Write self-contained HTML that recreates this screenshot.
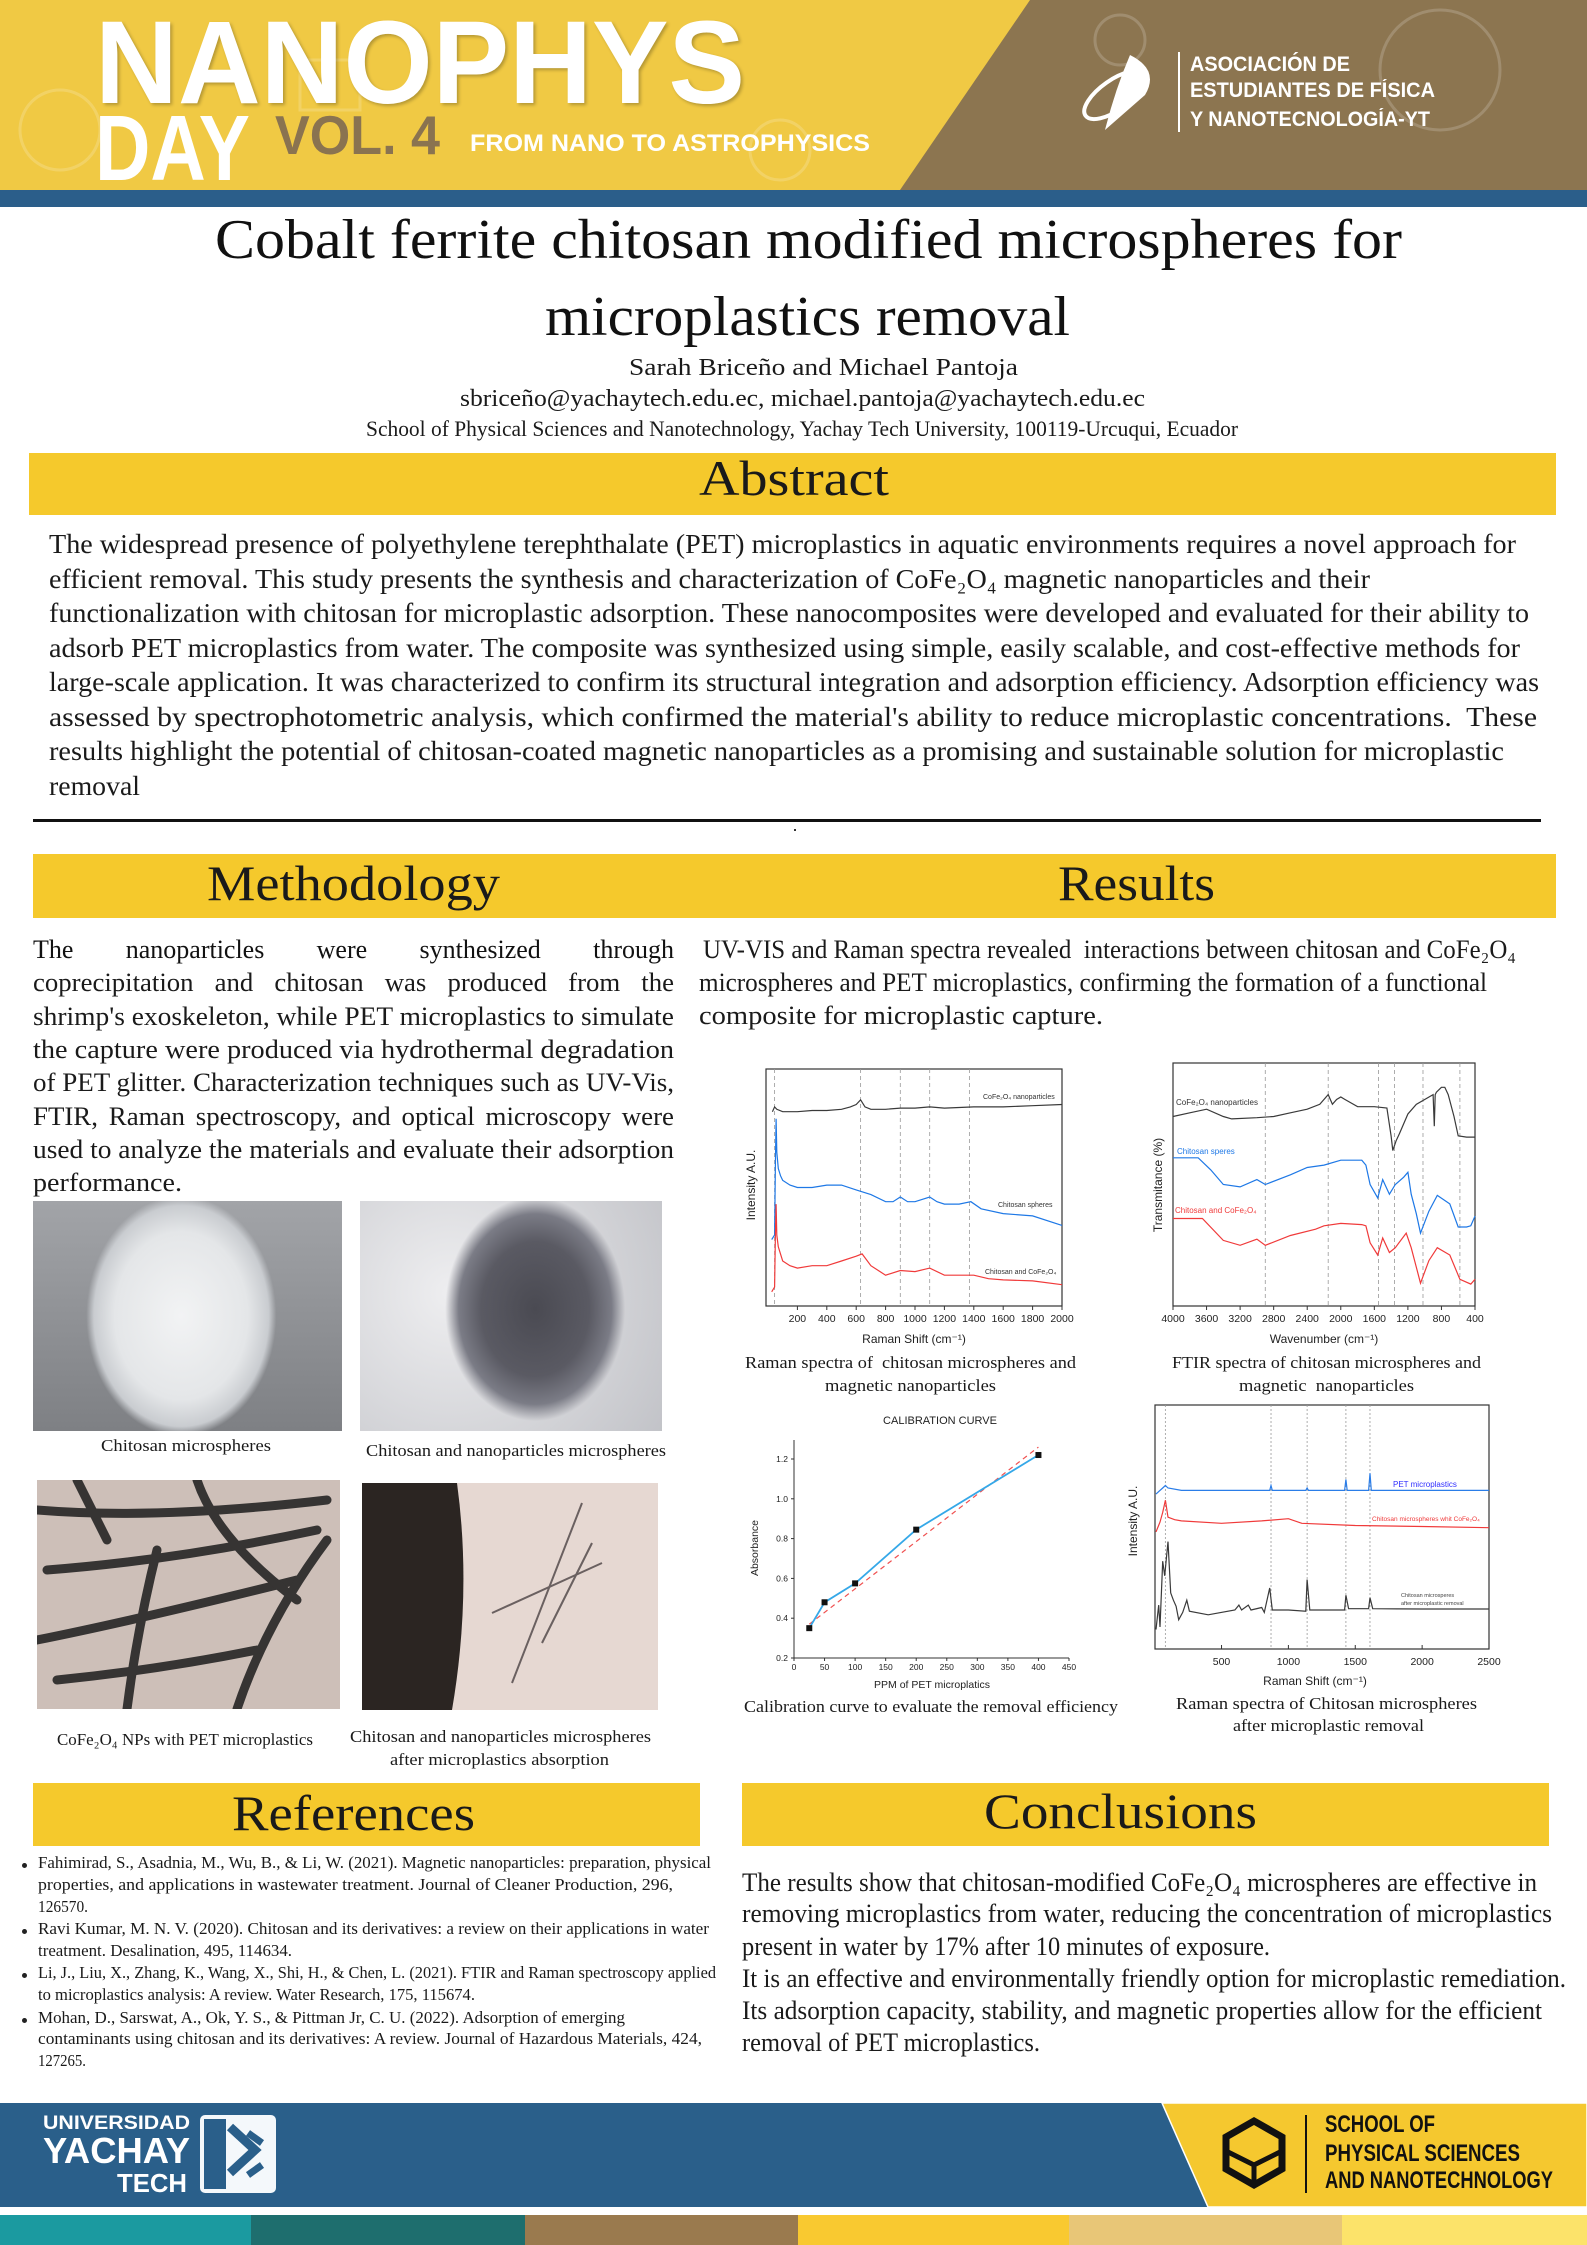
<!DOCTYPE html>
<html><head><meta charset="utf-8">
<style>
*{margin:0;padding:0;box-sizing:border-box}
body{width:1587px;height:2245px;position:relative;background:#fff;overflow:hidden;font-family:"Liberation Serif",serif;color:#111}
.abs{position:absolute}
.ln{position:absolute;white-space:nowrap;line-height:1;transform-origin:0 0;font-family:"Liberation Serif",serif;color:#1a1a1a;display:inline-block}
.hs{position:absolute;white-space:nowrap;line-height:1;transform-origin:0 0;font-family:"Liberation Sans",sans-serif;font-weight:bold;display:inline-block}
.bar{position:absolute;background:#f5c92c}
</style></head>
<body>
<!-- HEADER -->
<div class="abs" style="left:0;top:0;width:1587px;height:190px;background:#f0c944"></div>
<svg class="abs" style="left:0;top:0" width="1587" height="190"><polygon points="1030,0 1587,0 1587,190 900,190" fill="#8c7550"/>
<g stroke="#ffffff" stroke-opacity="0.18" fill="none" stroke-width="3"><circle cx="1440" cy="70" r="60"/><circle cx="1120" cy="40" r="25"/><circle cx="60" cy="130" r="40"/><circle cx="780" cy="150" r="30"/><rect x="300" y="60" width="60" height="50"/></g></svg>
<div class="abs" style="left:0;top:190px;width:1587px;height:17px;background:#2b5e8a"></div>
<div class="hs" data-w="650" style="left:95px;top:4px;font-size:118px;color:#fff;text-shadow:2px 2px 3px rgba(0,0,0,.25)">NANOPHYS</div>
<div class="hs" data-w="155" style="left:95px;top:102px;font-size:93px;color:#fff">DAY</div>
<div class="hs" data-w="165" style="left:275px;top:108px;font-size:55px;color:#8a7350">VOL. 4</div>
<div class="hs" data-w="400" style="left:470px;top:132px;font-size:24px;color:#fff">FROM NANO TO ASTROPHYSICS</div>
<svg class="abs" style="left:1075px;top:50px" width="90" height="85"><ellipse cx="40" cy="45" rx="36" ry="15" fill="none" stroke="#fff" stroke-width="4" transform="rotate(-35 40 45)"/><path d="M55 5 Q85 20 70 45 L30 80 Q40 40 55 5Z" fill="#fff"/></svg>
<div class="abs" style="left:1178px;top:52px;width:2px;height:80px;background:#fff"></div>
<div class="hs" data-w="160" style="left:1190px;top:54px;font-size:21px;color:#fff">ASOCIACIÓN DE</div>
<div class="hs" data-w="245" style="left:1190px;top:80px;font-size:21px;color:#fff">ESTUDIANTES DE FÍSICA</div>
<div class="hs" data-w="240" style="left:1190px;top:109px;font-size:21px;color:#fff">Y NANOTECNOLOGÍA-YT</div>

<!-- TITLE -->
<div class="ln" data-w="1187" style="left:215px;top:212px;font-size:56px;color:#111">Cobalt ferrite chitosan modified microspheres for</div>
<div class="ln" data-w="525" style="left:545px;top:289px;font-size:56px;color:#111">microplastics removal</div>
<div class="ln" data-w="389" style="left:629px;top:356px;font-size:24px">Sarah Briceño and Michael Pantoja</div>
<div class="ln" data-w="685" style="left:460px;top:387px;font-size:24px">sbriceño@yachaytech.edu.ec, michael.pantoja@yachaytech.edu.ec</div>
<div class="ln" data-w="872" style="left:366px;top:418px;font-size:22px">School of Physical Sciences and Nanotechnology, Yachay Tech University, 100119-Urcuqui, Ecuador</div>

<!-- ABSTRACT -->
<div class="bar" style="left:29px;top:453px;width:1527px;height:62px"></div>
<div class="ln" data-w="190" style="left:699px;top:453px;font-size:50px">Abstract</div>
<div class="ln" data-w="1467" style="left:49px;top:531px;font-size:27px">The widespread presence of polyethylene terephthalate (PET) microplastics in aquatic environments requires a novel approach for</div>
<div class="ln" data-w="1321" style="left:49px;top:566px;font-size:27px">efficient removal. This study presents the synthesis and characterization of CoFe₂O₄ magnetic nanoparticles and their</div>
<div class="ln" data-w="1480" style="left:49px;top:600px;font-size:27px">functionalization with chitosan for microplastic adsorption. These nanocomposites were developed and evaluated for their ability to</div>
<div class="ln" data-w="1471" style="left:49px;top:635px;font-size:27px">adsorb PET microplastics from water. The composite was synthesized using simple, easily scalable, and cost-effective methods for</div>
<div class="ln" data-w="1490" style="left:49px;top:669px;font-size:27px">large-scale application. It was characterized to confirm its structural integration and adsorption efficiency. Adsorption efficiency was</div>
<div class="ln" data-w="1488" style="left:49px;top:704px;font-size:27px">assessed by spectrophotometric analysis, which confirmed the material's ability to reduce microplastic concentrations.&nbsp; These</div>
<div class="ln" data-w="1455" style="left:49px;top:738px;font-size:27px">results highlight the potential of chitosan-coated magnetic nanoparticles as a promising and sustainable solution for microplastic</div>
<div class="ln" data-w="91" style="left:49px;top:773px;font-size:27px">removal</div>
<div class="abs" style="left:33px;top:819px;width:1508px;height:3px;background:#111"></div>
<div class="abs" style="left:794px;top:829px;width:2px;height:2px;background:#333"></div>

<!-- METHODOLOGY / RESULTS -->
<div class="bar" style="left:33px;top:854px;width:666px;height:64px"></div>
<div class="bar" style="left:699px;top:854px;width:857px;height:64px"></div>
<div class="ln" data-w="293" style="left:207px;top:858px;font-size:50px">Methodology</div>
<div class="ln" data-w="157" style="left:1058px;top:858px;font-size:50px">Results</div>

<div class="abs" style="left:33px;top:937px;width:641px;font-size:26px;line-height:1;display:flex;justify-content:space-between;white-space:nowrap"><span>The</span><span>nanoparticles</span><span>were</span><span>synthesized</span><span>through</span></div>
<div class="ln" data-w="641" style="left:33px;top:970px;font-size:26px;word-spacing:14px">coprecipitation and chitosan was produced from the</div>
<div class="ln" data-w="641" style="left:33px;top:1004px;font-size:26px">shrimp's exoskeleton, while PET microplastics to simulate</div>
<div class="ln" data-w="641" style="left:33px;top:1037px;font-size:26px">the capture were produced via hydrothermal degradation</div>
<div class="ln" data-w="641" style="left:33px;top:1070px;font-size:26px">of PET glitter. Characterization techniques such as UV-Vis,</div>
<div class="ln" data-w="641" style="left:33px;top:1104px;font-size:26px;word-spacing:4px">FTIR, Raman spectroscopy, and optical microscopy were</div>
<div class="ln" data-w="641" style="left:33px;top:1137px;font-size:26px">used to analyze the materials and evaluate their adsorption</div>
<div class="ln" data-w="149" style="left:33px;top:1170px;font-size:26px">performance.</div>

<div class="ln" data-w="813" style="left:703px;top:937px;font-size:26px">UV-VIS and Raman spectra revealed&nbsp; interactions between chitosan and CoFe₂O₄</div>
<div class="ln" data-w="788" style="left:699px;top:970px;font-size:26px">microspheres and PET microplastics, confirming the formation of a functional</div>
<div class="ln" data-w="404" style="left:699px;top:1003px;font-size:26px">composite for microplastic capture.</div>

<!-- MICROGRAPHS -->
<div class="abs" style="left:33px;top:1201px;width:309px;height:230px;background:radial-gradient(ellipse 95px 120px at 48% 50%,#f2f3f4 0%,#e4e6e8 70%,#c9ccd0 92%,rgba(0,0,0,0) 100%),linear-gradient(180deg,#a2a4a8,#7e8084)"></div>
<div class="abs" style="left:360px;top:1201px;width:302px;height:230px;background:radial-gradient(ellipse 90px 112px at 58% 47%,#4a4a52 0%,#5a5a63 60%,#7b7c86 85%,rgba(0,0,0,0) 100%),radial-gradient(circle at 30% 40%,#eeeef0,#c2c3c8)"></div>
<div class="ln" data-w="170" style="left:101px;top:1437px;font-size:17px">Chitosan microspheres</div>
<div class="ln" data-w="300" style="left:366px;top:1442px;font-size:17px">Chitosan and nanoparticles microspheres</div>
<svg class="abs" style="left:37px;top:1480px" width="303" height="229"><rect width="303" height="229" fill="#cdbfb8"/>
<g stroke="#1c1c1c" stroke-width="9" stroke-linecap="round" fill="none" opacity="0.85"><path d="M0 30 Q120 40 290 20"/><path d="M10 90 Q140 80 280 50"/><path d="M0 160 Q100 140 260 100"/><path d="M90 229 Q100 150 120 70"/><path d="M200 229 Q230 140 290 60"/><path d="M20 200 Q120 190 220 170"/><path d="M40 0 L70 60"/><path d="M160 0 Q180 60 260 120"/></g></svg>
<svg class="abs" style="left:362px;top:1483px" width="296" height="227"><rect width="296" height="227" fill="#e6d8d2"/><path d="M0 0 L95 0 Q110 110 90 227 L0 227Z" fill="#2b2522"/>
<g stroke="#6a6060" stroke-width="2" fill="none"><path d="M220 20 L150 200"/><path d="M240 80 L130 130"/><path d="M230 60 L180 160"/></g></svg>
<div class="ln" data-w="256" style="left:57px;top:1731px;font-size:17px">CoFe₂O₄ NPs with PET microplastics</div>
<div class="ln" data-w="301" style="left:350px;top:1728px;font-size:17px">Chitosan and nanoparticles microspheres</div>
<div class="ln" data-w="219" style="left:390px;top:1751px;font-size:17px">after microplastics absorption</div>

<!-- CHARTS -->
<svg id="charts" class="abs" style="left:0;top:0" width="1587" height="2245" font-family="Liberation Sans, sans-serif"></svg>
<div class="ln" data-w="331" style="left:745px;top:1354px;font-size:17px">Raman spectra of&nbsp; chitosan microspheres and</div>
<div class="ln" data-w="171" style="left:825px;top:1377px;font-size:17px">magnetic nanoparticles</div>
<div class="ln" data-w="309" style="left:1172px;top:1354px;font-size:17px">FTIR spectra of chitosan microspheres and</div>
<div class="ln" data-w="175" style="left:1239px;top:1377px;font-size:17px">magnetic&nbsp; nanoparticles</div>
<div class="ln" data-w="374" style="left:744px;top:1698px;font-size:17px">Calibration curve to evaluate the removal efficiency</div>
<div class="ln" data-w="301" style="left:1176px;top:1695px;font-size:17px">Raman spectra of Chitosan microspheres</div>
<div class="ln" data-w="191" style="left:1233px;top:1717px;font-size:17px">after microplastic removal</div>

<!-- REFERENCES / CONCLUSIONS -->
<div class="bar" style="left:33px;top:1783px;width:667px;height:63px"></div>
<div class="bar" style="left:742px;top:1783px;width:807px;height:63px"></div>
<div class="ln" data-w="243" style="left:232px;top:1788px;font-size:50px">References</div>
<div class="ln" data-w="273" style="left:984px;top:1786px;font-size:50px">Conclusions</div>

<div class="abs" style="left:22px;top:1863px;width:5px;height:5px;border-radius:50%;background:#222"></div>
<div class="abs" style="left:22px;top:1929px;width:5px;height:5px;border-radius:50%;background:#222"></div>
<div class="abs" style="left:22px;top:1973px;width:5px;height:5px;border-radius:50%;background:#222"></div>
<div class="abs" style="left:22px;top:2018px;width:5px;height:5px;border-radius:50%;background:#222"></div>
<div class="ln" data-w="673" style="left:38px;top:1855px;font-size:16.5px">Fahimirad, S., Asadnia, M., Wu, B., &amp; Li, W. (2021). Magnetic nanoparticles: preparation, physical</div>
<div class="ln" data-w="635" style="left:38px;top:1877px;font-size:16.5px">properties, and applications in wastewater treatment. Journal of Cleaner Production, 296,</div>
<div class="ln" data-w="50" style="left:38px;top:1899px;font-size:16.5px">126570.</div>
<div class="ln" data-w="671" style="left:38px;top:1921px;font-size:16.5px">Ravi Kumar, M. N. V. (2020). Chitosan and its derivatives: a review on their applications in water</div>
<div class="ln" data-w="254" style="left:38px;top:1943px;font-size:16.5px">treatment. Desalination, 495, 114634.</div>
<div class="ln" data-w="678" style="left:38px;top:1965px;font-size:16.5px">Li, J., Liu, X., Zhang, K., Wang, X., Shi, H., &amp; Chen, L. (2021). FTIR and Raman spectroscopy applied</div>
<div class="ln" data-w="437" style="left:38px;top:1987px;font-size:16.5px">to microplastics analysis: A review. Water Research, 175, 115674.</div>
<div class="ln" data-w="587" style="left:38px;top:2010px;font-size:16.5px">Mohan, D., Sarswat, A., Ok, Y. S., &amp; Pittman Jr, C. U. (2022). Adsorption of emerging</div>
<div class="ln" data-w="664" style="left:38px;top:2031px;font-size:16.5px">contaminants using chitosan and its derivatives: A review. Journal of Hazardous Materials, 424,</div>
<div class="ln" data-w="48" style="left:38px;top:2053px;font-size:16.5px">127265.</div>

<div class="ln" data-w="795" style="left:742px;top:1870px;font-size:26px">The results show that chitosan-modified CoFe₂O₄ microspheres are effective in</div>
<div class="ln" data-w="810" style="left:742px;top:1901px;font-size:26px">removing microplastics from water, reducing the concentration of microplastics</div>
<div class="ln" data-w="528" style="left:742px;top:1934px;font-size:26px">present in water by 17% after 10 minutes of exposure.</div>
<div class="ln" data-w="824" style="left:742px;top:1966px;font-size:26px">It is an effective and environmentally friendly option for microplastic remediation.</div>
<div class="ln" data-w="800" style="left:742px;top:1998px;font-size:26px">Its adsorption capacity, stability, and magnetic properties allow for the efficient</div>
<div class="ln" data-w="298" style="left:742px;top:2030px;font-size:26px">removal of PET microplastics.</div>

<!-- FOOTER -->
<div class="abs" style="left:0;top:2103px;width:1587px;height:104px;background:#2a5f8a"></div>
<svg class="abs" style="left:0;top:2103px" width="1587" height="104"><polygon points="1162,0 1587,0 1587,104 1208,104" fill="#f5c82f" stroke="#fff" stroke-width="1.5"/>
<g transform="translate(1254,50)" fill="none" stroke="#111" stroke-width="7"><polygon points="0,-32 28,-16 28,16 0,32 -28,16 -28,-16"/><path d="M-28 -2 L0 12 L28 -2 M0 12 L0 32" stroke-width="5"/></g>
<rect x="1305" y="12" width="2" height="78" fill="#111"/></svg>
<div class="hs" data-w="110" style="left:1325px;top:2113px;font-size:24px;color:#111">SCHOOL OF</div>
<div class="hs" data-w="195" style="left:1325px;top:2142px;font-size:24px;color:#111">PHYSICAL SCIENCES</div>
<div class="hs" data-w="228" style="left:1325px;top:2169px;font-size:24px;color:#111">AND NANOTECHNOLOGY</div>
<div class="hs" data-w="147" style="left:43px;top:2114px;font-size:19px;color:#fff">UNIVERSIDAD</div>
<div class="hs" data-w="147" style="left:43px;top:2133px;font-size:36px;color:#fff">YACHAY</div>
<div class="hs" data-w="70" style="left:117px;top:2170px;font-size:26px;color:#fff">TECH</div>
<svg class="abs" style="left:200px;top:2115px" width="76" height="78"><rect width="76" height="78" rx="5" fill="#f4f8fb"/><rect x="4" y="4" width="22" height="70" fill="#2a5f8a"/><path d="M30 12 L55 35 L30 58" stroke="#2a5f8a" stroke-width="9" fill="none"/><path d="M48 18 L62 28 M48 60 L62 50" stroke="#2a5f8a" stroke-width="7"/></svg>
<div class="abs" style="left:0;top:2215px;width:251px;height:30px;background:#1b9aa0"></div>
<div class="abs" style="left:251px;top:2215px;width:274px;height:30px;background:#1e6e6e"></div>
<div class="abs" style="left:525px;top:2215px;width:273px;height:30px;background:#9a7a4e"></div>
<div class="abs" style="left:798px;top:2215px;width:271px;height:30px;background:#f9c930"></div>
<div class="abs" style="left:1069px;top:2215px;width:273px;height:30px;background:#e8c677"></div>
<div class="abs" style="left:1342px;top:2215px;width:245px;height:30px;background:#fce36a"></div>

<script>
// ---------- Raman spectra (chart 1) ----------
const ramanTicks=[200,400,600,800,1000,1200,1400,1600,1800,2000];
const ramanDashes=[45,630,900,1100,1370];
const ramanBlackX=[30,45,60,100,200,300,400,500,560,600,630,660,700,800,900,1000,1100,1200,1400,1600,1800,2000];
const ramanBlackY=[82,84,83,82,82,82.5,82.5,83,84,85,87,84,83,83,83.5,83.5,84,83.5,84,84,84.5,85];
const ramanBlueX=[25,45,50,55,60,70,85,100,150,200,300,400,500,600,700,800,850,900,950,1000,1100,1150,1200,1300,1380,1450,1600,1800,2000];
const ramanBlueY=[28,30,60,79,65,58,55,53,51,50,50,51,51,49,47,44,44,46,44,44,46,44,43,43,44,41,39,38,34];
const ramanRedX=[25,45,50,55,60,70,85,100,150,200,300,400,500,600,640,700,800,900,1000,1100,1200,1300,1400,1500,1600,1800,2000];
const ramanRedY=[6,8,30,43,30,25,22,19,17,16,17,17,19,21,22,17,13,15,14.5,16,13,13,13,11.5,11,10.6,9];
// ---------- FTIR spectra (chart 2) ----------
const ftirTicks=[4000,3600,3200,2800,2400,2000,1600,1200,800,400];
const ftirDashes=[2900,2150,1550,1360,1020,580];
const ftirBlackX=[4000,3800,3600,3400,3300,3000,2800,2600,2400,2250,2150,2100,2050,2000,1950,1900,1800,1700,1600,1450,1400,1380,1340,1300,1200,1100,1000,900,885,875,860,800,760,720,650,600,500,400];
const ftirBlackY=[78,79.5,81,78,77,77.5,78,79.5,81,83,87,83,85,86,85,84,82,82,82,81.5,70,64,68,71,79,83,85,87,74,87,88,90,90,87,78,70,69.5,69.5];
const ftirBlueX=[4000,3700,3550,3400,3200,3000,2900,2600,2400,2200,2000,1750,1700,1650,1560,1500,1420,1350,1250,1200,1160,1100,1050,950,850,700,600,500,450,400];
const ftirBlueY=[61,61,56,50,49,52,50,54,57,58,60,60,58,50,44.5,52,46,50,53,55,46,38,30,39,45.5,42,32.5,32.5,33,37];
const ftirRedX=[4000,3650,3400,3200,3000,2900,2600,2300,2200,2000,1750,1700,1650,1560,1500,1420,1350,1220,1160,1100,1050,950,850,700,580,450,400];
const ftirRedY=[36,36,27,25,27.5,25,29,31.6,33,34,33.5,33,26,21,28,22,24,30,24,16,9.4,18.7,24,21,11,9,11];
// ---------- Calibration curve (chart 3) ----------
const calXTicks=[0,50,100,150,200,250,300,350,400,450];
const calYTicks=[0.2,0.4,0.6,0.8,1.0,1.2];
const calPPM=[25,50,100,200,400];
const calAbs=[0.35,0.48,0.575,0.845,1.22];
const fitPPM=[25,400];
const fitAbs=[0.37,1.26];
// ---------- Raman after removal (chart 4) ----------
const raman2Ticks=[500,1000,1500,2000,2500];
const raman2Dashes=[80,870,1140,1430,1610];
const r2BlueX=[10,30,60,80,100,200,500,860,870,880,1130,1140,1150,1420,1430,1440,1600,1610,1620,2000,2500];
const r2BlueY=[63.5,64.5,66,67,66,65,65,65,67,65,65,66,65,65,69.5,65,65,72,65,65,65];
const r2RedX=[10,40,60,80,100,150,200,500,800,1000,1100,1500,2000,2500];
const r2RedY=[48,52,56,61,54,53,52.5,51.5,52.5,53.4,51.5,50.6,50.2,49.7];
const r2BlackX=[10,30,40,60,75,100,120,140,160,180,210,240,260,400,600,630,650,700,720,800,820,860,880,1000,1130,1140,1160,1420,1430,1450,1600,1610,1630,2000,2500];
const r2BlackY=[8,18,9,36,30,44,23,20,17.5,12,15,20,15.5,14,16,18,16,18,16,17,15,25,16,16,15.5,28.5,16,16,22,16.5,16.5,21,16.5,16.4,16.4];

const NS='http://www.w3.org/2000/svg';
const svg=document.getElementById('charts');
function scale(d0,d1,r0,r1){return v=>r0+(v-d0)/(d1-d0)*(r1-r0);}
function el(tag,attrs,parent){const e=document.createElementNS(NS,tag);for(const k in attrs)e.setAttribute(k,attrs[k]);(parent||svg).appendChild(e);return e;}
function txt(x,y,s,size,anchor,fill,rot){const t=el('text',{x:x,y:y,'font-size':size,'text-anchor':anchor||'middle',fill:fill||'#222'});if(rot)t.setAttribute('transform','rotate(-90 '+x+' '+y+')');t.textContent=s;return t;}
function series(xs,ys,sx,sy,color,w,dash){let d='';for(let i=0;i<xs.length;i++)d+=(i?'L':'M')+sx(xs[i]).toFixed(1)+' '+sy(ys[i]).toFixed(1);const p=el('path',{d:d,fill:'none',stroke:color,'stroke-width':w||1.2});if(dash)p.setAttribute('stroke-dasharray',dash);return p;}
function vdash(xs,sx,y0,y1,dash){xs.forEach(v=>{const l=el('line',{x1:sx(v),x2:sx(v),y1:y0,y2:y1,stroke:'#999','stroke-width':0.8,'stroke-dasharray':dash||'4 3'});

});}
function box(x0,y0,x1,y1){const r=el('rect',{x:x0,y:y0,width:x1-x0,height:y1-y0,fill:'none',stroke:'#333','stroke-width':1.2});

}

// Chart 1
(function(){const L=766,R=1062,T=1069,B=1306;const sx=scale(0,2000,L+2,R),sy=scale(0,100,B,T);
box(L,T,R,B);vdash(ramanDashes,sx,T,B);
ramanTicks.forEach(v=>{el('line',{x1:sx(v),x2:sx(v),y1:B,y2:B+4,stroke:'#333'});const t=txt(sx(v),B+16,v,10.5);
});
let p=series(ramanBlackX,ramanBlackY,sx,sy,'#3a3a3a');

p=series(ramanBlueX,ramanBlueY,sx,sy,'#1e78e6');

p=series(ramanRedX,ramanRedY,sx,sy,'#f03a3a');

txt(983,1099,'CoFe₂O₄ nanoparticles',7,'start','#333');txt(998,1207,'Chitosan spheres',7,'start','#333');txt(985,1274,'Chitosan and CoFe₂O₄',7,'start','#333');
const xl=txt((L+R)/2,1343,'Raman Shift (cm⁻¹)',12);
const yl=txt(755,1185,'Intensity A.U.',12,'middle','#222',true);})();

// Chart 2
(function(){const L=1173,R=1475,T=1063,B=1306;const sx=scale(4000,400,L,R),sy=scale(0,100,B,T);
box(L,T,R,B);vdash(ftirDashes,sx,T,B);
ftirTicks.forEach(v=>{el('line',{x1:sx(v),x2:sx(v),y1:B,y2:B+4,stroke:'#333'});const t=txt(sx(v),B+16,v,10.5);
});
let p=series(ftirBlackX,ftirBlackY,sx,sy,'#3a3a3a');

p=series(ftirBlueX,ftirBlueY,sx,sy,'#1e78e6');

p=series(ftirRedX,ftirRedY,sx,sy,'#f03a3a');

txt(1176,1105,'CoFe₂O₄ nanoparticles',8,'start','#333');txt(1177,1154,'Chitosan speres',8,'start','#1e78e6');txt(1175,1213,'Chitosan and CoFe₂O₄',8,'start','#f03a3a');
const xl=txt((L+R)/2,1343,'Wavenumber (cm⁻¹)',12);
const yl=txt(1162,1185,'Transmitance (%)',12,'middle','#222',true);})();

// Chart 3
(function(){const L=794,R=1069,T=1440,B=1658;const sx=scale(0,450,L,R),sy=scale(0.2,1.2,B,1459);
el('line',{x1:L,x2:L,y1:T,y2:B,stroke:'#333'});el('line',{x1:L,x2:R,y1:B,y2:B,stroke:'#333'});
calXTicks.forEach(v=>{el('line',{x1:sx(v),x2:sx(v),y1:B,y2:B+3,stroke:'#333'});const t=txt(sx(v),B+12,v,8.5);
});
calYTicks.forEach(v=>{el('line',{x1:L-3,x2:L,y1:sy(v),y2:sy(v),stroke:'#333'});const t=txt(L-6,sy(v)+3,v.toFixed(1),8.5,'end');
});
let p=series(fitPPM,fitAbs,sx,sy,'#f05050',1.2,'5 4');

p=series(calPPM,calAbs,sx,sy,'#35a8e8',1.8);

calPPM.forEach((v,i)=>{const r=el('rect',{x:sx(v)-3,y:sy(calAbs[i])-3,width:6,height:6,fill:'#111'});

});
const ti=txt(940,1424,'CALIBRATION CURVE',11);
const xl=txt(932,1688,'PPM of PET microplatics',10.5);
const yl=txt(758,1548,'Absorbance',10.5,'middle','#222',true);})();

// Chart 4
(function(){const L=1155,R=1489,T=1405,B=1649;const sx=scale(10,2500,L+1,R),sy=scale(0,100,B,T);
box(L,T,R,B);vdash(raman2Dashes,sx,T,B,'2 2');
raman2Ticks.forEach(v=>{el('line',{x1:sx(v),x2:sx(v),y1:B,y2:B-4,stroke:'#333'});const t=txt(sx(v),B+16,v,10.5);
});
let p=series(r2BlueX,r2BlueY,sx,sy,'#2a7de8');

p=series(r2RedX,r2RedY,sx,sy,'#f03a3a');

p=series(r2BlackX,r2BlackY,sx,sy,'#3a3a3a');

txt(1393,1487,'PET microplastics',8,'start','#3030ff');txt(1372,1521,'Chitosan microspheres whit CoFe₂O₄',6.5,'start','#f03a3a');
txt(1401,1597,'Chitosan microsperes',5.5,'start','#444');txt(1401,1605,'after microplastic removal',5.5,'start','#444');
const xl=txt(1315,1685,'Raman Shift (cm⁻¹)',12);
const yl=txt(1137,1521,'Intensity A.U.',12,'middle','#222',true);})();

// fit text lines to measured widths
document.querySelectorAll('[data-w]').forEach(e=>{const w=e.getBoundingClientRect().width;if(w>0)e.style.transform='scaleX('+((+e.dataset.w)/w)+')';});
</script>
</body></html>
